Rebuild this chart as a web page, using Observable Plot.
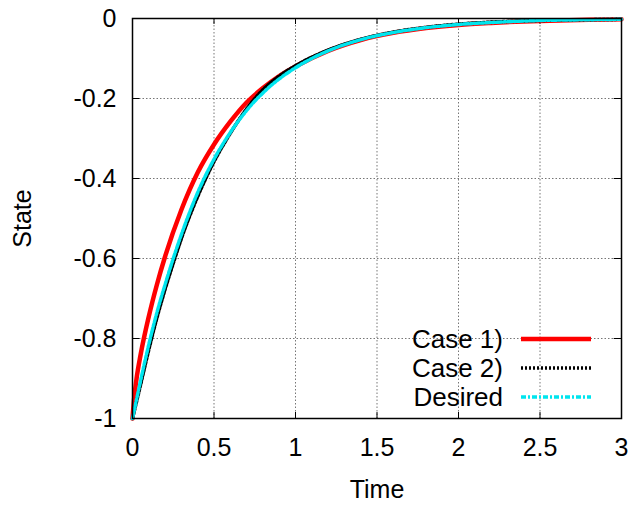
<!DOCTYPE html>
<html><head><meta charset="utf-8">
<script src="https://cdn.jsdelivr.net/npm/d3@7"></script>
<script src="https://cdn.jsdelivr.net/npm/@observablehq/plot@0.6"></script>
<style>
body{margin:0;background:#fff;font-family:"Liberation Sans",Arial,sans-serif;}
#wrap{position:relative;width:634px;height:505px;}
#legend{position:absolute;left:380px;top:325px;font-size:26px;}
.row{position:absolute;white-space:nowrap;height:28px;line-height:28px;}
.lab{position:absolute;text-align:right;}
</style>
</head><body>
<div id="wrap"><div id="chart"></div>
<div id="legend"></div></div>
<script>
const xTicks = [0, 0.5, 1, 1.5, 2, 2.5, 3];
const yTicks = [-1, -0.8, -0.6, -0.4, -0.2, 0];
const seriesNames = ["Case 1)", "Case 2)", "Desired"];

const tCase1 = [0, 0.01, 0.025, 0.05, 0.1, 0.15, 0.2, 0.3, 0.4, 0.5, 0.6, 0.7, 0.8, 0.9, 1.0, 1.2, 1.4, 1.6, 1.8, 2.0, 2.2, 2.5, 2.8, 3.0];
const yCase1 = [-1, -0.95, -0.9, -0.84, -0.745, -0.665, -0.595, -0.478, -0.385, -0.315, -0.258, -0.21, -0.174, -0.144, -0.12, -0.081, -0.054, -0.036, -0.024, -0.016, -0.011, -0.006, -0.003, -0.002];

const tCase2 = [0, 0.05, 0.1, 0.15, 0.2, 0.25, 0.3, 0.4, 0.5, 0.6, 0.7, 0.8, 0.9, 1.0, 1.2, 1.4, 1.6, 1.8, 2.0, 2.2, 2.5, 2.8, 3.0];
const yCase2 = [-1, -0.915, -0.828, -0.748, -0.677, -0.612, -0.55, -0.445, -0.358, -0.287, -0.226, -0.178, -0.144, -0.118, -0.079, -0.052, -0.034, -0.022, -0.014, -0.009, -0.005, -0.003, -0.002];

const tDesired = [0, 0.05, 0.1, 0.15, 0.2, 0.25, 0.3, 0.4, 0.5, 0.6, 0.7, 0.8, 0.9, 1.0, 1.2, 1.4, 1.6, 1.8, 2.0, 2.2, 2.5, 2.8, 3.0];
const yDesired = [-1, -0.905, -0.815, -0.735, -0.665, -0.6, -0.54, -0.435, -0.352, -0.285, -0.23, -0.186, -0.151, -0.123, -0.081, -0.053, -0.035, -0.023, -0.015, -0.01, -0.005, -0.003, -0.002];

const colors = ["#ff0000", "#000000", "#00e5ee"];
const widths = [4.5, 3.5, 3.5];
const dashes = [null, "2,2", "5,2,2,2"];

const toRows = (ts, ys) => ts.map((t, i) => ({t, v: ys[i]}));
const series = [toRows(tCase1, yCase1), toRows(tCase2, yCase2), toRows(tDesired, yDesired)];

const chart = Plot.plot({
  width: 634, height: 505,
  marginLeft: 132, marginRight: 13, marginTop: 18, marginBottom: 87,
  style: {fontFamily: '"Liberation Sans", Arial, sans-serif', fontSize: "25px", color: "#000", background: "#fff", overflow: "visible"},
  x: {domain: [0, 3], ticks: xTicks, tickFormat: d => String(d), label: null},
  y: {domain: [-1, 0], ticks: yTicks, tickFormat: d => String(d), label: null},
  marks: [
    Plot.ruleX(xTicks.slice(1, -1), {stroke: "#666", strokeWidth: 0.9, strokeDasharray: "1.5,2"}),
    Plot.ruleY(yTicks.slice(1, -1), {stroke: "#666", strokeWidth: 0.9, strokeDasharray: "1.5,2"}),
    Plot.ruleX(xTicks, {y1: -1, y2: -0.985, stroke: "#000"}),
    Plot.ruleX(xTicks, {y1: 0, y2: -0.015, stroke: "#000"}),
    Plot.ruleY(yTicks, {x1: 0, x2: 0.045, stroke: "#000"}),
    Plot.ruleY(yTicks, {x1: 3, x2: 2.955, stroke: "#000"}),
    ...series.map((d, i) => Plot.line(d, {x: "t", y: "v", stroke: colors[i], strokeWidth: widths[i], strokeDasharray: dashes[i], curve: "monotone-x"})),
    Plot.frame({stroke: "#000", strokeWidth: 1.5}),
    Plot.axisX({ticks: xTicks, tickSize: 0, tickPadding: 20, label: "Time", labelAnchor: "center", labelArrow: "none", labelOffset: 79, tickFormat: d => String(d)}),
    Plot.axisY({ticks: yTicks, tickSize: 0, tickPadding: 16, label: "State", labelAnchor: "center", labelArrow: "none", labelOffset: 119, tickFormat: d => String(d)})
  ]
});
document.getElementById("chart").appendChild(chart);

const leg = document.getElementById("legend");
seriesNames.forEach((name, i) => {
  const row = document.createElement("div");
  row.className = "row";
  row.style.top = (i * 29) + "px";
  row.style.left = "0px";
  row.style.width = "212px";
  row.innerHTML = `<span class="lab" style="right:89px;top:0">${name}</span>
  <svg style="position:absolute;left:141px;top:0" width="72" height="28"><line x1="0" x2="70" y1="14" y2="14" stroke="${colors[i]}" stroke-width="${widths[i]}" ${dashes[i] ? `stroke-dasharray="${dashes[i]}"` : ""}/></svg>`;
  leg.appendChild(row);
});
</script>
</body></html>
